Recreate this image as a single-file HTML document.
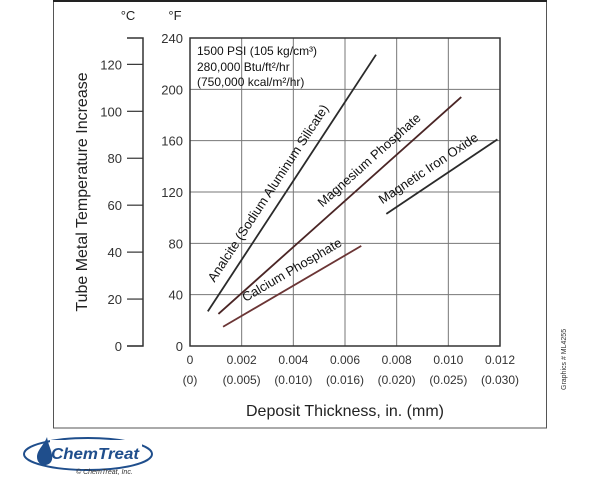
<!DOCTYPE html>
<html><head><meta charset="utf-8"><style>
html,body{margin:0;padding:0;background:#fff;}
svg{display:block;font-family:"Liberation Sans",sans-serif;}
</style></head><body>
<svg id="chart" width="600" height="500" viewBox="0 0 600 500">
<rect x="53.5" y="1" width="493" height="427" fill="none" stroke="#555" stroke-width="1"/>
<line x1="53" y1="1" x2="547" y2="1" stroke="#222" stroke-width="2"/>
<g id="grid"></g>
<g id="axes"></g>
<g id="series"></g>
<text x="128" y="20" font-size="13" text-anchor="middle" fill="#222">°C</text>
<text x="175" y="20" font-size="13" text-anchor="middle" fill="#222">°F</text>
<text transform="translate(87,192) rotate(-90)" font-size="16" text-anchor="middle" fill="#222">Tube Metal Temperature Increase</text>
<text x="345" y="416" font-size="16" text-anchor="middle" fill="#222">Deposit Thickness, in. (mm)</text>
<g font-size="12" fill="#111">
<text x="197" y="55">1500 PSI (105 kg/cm³)</text>
<text x="197" y="71">280,000 Btu/ft²/hr</text>
<text x="197" y="86">(750,000 kcal/m²/hr)</text>
</g>
<text transform="translate(566,390) rotate(-90)" font-size="7" fill="#333">Graphics # ML4255</text>
<g>
<ellipse cx="88" cy="454" rx="64" ry="16" fill="none" stroke="#1f4e8c" stroke-width="2"/>
<rect x="50" y="440" width="92" height="20" fill="#fff"/>
<path d="M47 437 C44 445 37 450 37 457 C37 463 42 466 46 465 C51 464 53 460 52 455 C51 449 48 444 47 437Z" fill="#1f4e8c"/>
<text x="51" y="459" font-size="16" font-weight="bold" font-style="italic" fill="#1f4e8c" textLength="88" lengthAdjust="spacingAndGlyphs">ChemTreat</text>
<text x="76" y="474" font-size="7" font-style="italic" fill="#333">© ChemTreat, Inc.</text>
</g>
</svg>
<script>
const xTicks=[0,0.002,0.004,0.006,0.008,0.010,0.012];
const xTickLabels=["0","0.002","0.004","0.006","0.008","0.010","0.012"];
const xTickMm=["(0)","(0.005)","(0.010)","(0.016)","(0.020)","(0.025)","(0.030)"];
const fTicks=[0,40,80,120,160,200,240];
const cTicks=[0,20,40,60,80,100,120];
const seriesNames=["Analcite (Sodium Aluminum Silicate)","Magnesium Phosphate","Calcium Phosphate","Magnetic Iron Oxide"];
const seriesX0=[0.00069,0.0011,0.00128,0.0076];
const seriesY0=[27,25,15,103];
const seriesX1=[0.0072,0.0105,0.00663,0.0119];
const seriesY1=[227,194,78,161];
const NS="http://www.w3.org/2000/svg";
const X0=190,X1=500,Y0=346,Y1=38;
function xs(v){return X0+(v/0.012)*(X1-X0);}
function yf(v){return Y0-(v/240)*(Y0-Y1);}
function yc(v){return Y0-v*2.347;}
function mk(tag,attrs,parent,txt){const e=document.createElementNS(NS,tag);for(const k in attrs)e.setAttribute(k,attrs[k]);if(txt!==undefined)e.textContent=txt;parent.appendChild(e);return e;}
const grid=document.getElementById('grid'),axes=document.getElementById('axes'),ser=document.getElementById('series');
xTicks.forEach((t,i)=>{
 if(i>0&&i<xTicks.length-1){const l=mk('line',{x1:xs(t),x2:xs(t),y1:Y1,y2:Y0,stroke:'#777','stroke-width':1},grid);
 
 }
 const a=mk('text',{x:xs(t),y:364,'font-size':12,'text-anchor':'middle',fill:'#333'},axes,xTickLabels[i]);
 
 
 const b=mk('text',{x:xs(t),y:384,'font-size':12,'text-anchor':'middle',fill:'#333'},axes,xTickMm[i]);
 
 
});
fTicks.forEach(t=>{
 if(t>0&&t<240){const l=mk('line',{x1:X0,x2:X1,y1:yf(t),y2:yf(t),stroke:'#777','stroke-width':1},grid);
 
 }
 const a=mk('text',{x:183,y:yf(t)+5,'font-size':13,'text-anchor':'end',fill:'#333'},axes,String(t));
 
 
});
const fr=mk('rect',{x:X0,y:Y1,width:X1-X0,height:Y0-Y1,fill:'none',stroke:'#333','stroke-width':1.5},axes);


const ca=mk('polyline',{points:`127,${Y1} 143,${Y1} 143,${Y0} 127,${Y0}`,fill:'none',stroke:'#333','stroke-width':1.5},axes);


cTicks.forEach(t=>{
 const l=mk('line',{x1:127,x2:143,y1:yc(t),y2:yc(t),stroke:'#333','stroke-width':1.2},axes);
 
 
 const a=mk('text',{x:122,y:yc(t)+5,'font-size':13,'text-anchor':'end',fill:'#333'},axes,String(t));
 
 
});
const colors=['#2a2a2a','#4a2525','#6b3535','#2a2a2a'];
const labFrac=[0.43,0.66,0.55,0.45];
seriesNames.forEach((n,i)=>{
 const x1=xs(seriesX0[i]),y1=yf(seriesY0[i]),x2=xs(seriesX1[i]),y2=yf(seriesY1[i]);
 const l=mk('line',{x1,y1,x2,y2,stroke:colors[i],'stroke-width':1.8},ser);
 
 
 const dx=x2-x1,dy=y2-y1,len=Math.hypot(dx,dy);
 const ang=Math.atan2(dy,dx)*180/Math.PI;
 const nx=dy/len,ny=-dx/len;
 const f=labFrac[i];
 const cx=x1+dx*f+nx*5,cy=y1+dy*f+ny*5;
 const t=mk('text',{x:0,y:-5,'font-size':13,'text-anchor':'middle',fill:'#111',transform:`translate(${cx},${cy}) rotate(${ang})`},ser,n);
 
 
});
</script>
</body></html>
